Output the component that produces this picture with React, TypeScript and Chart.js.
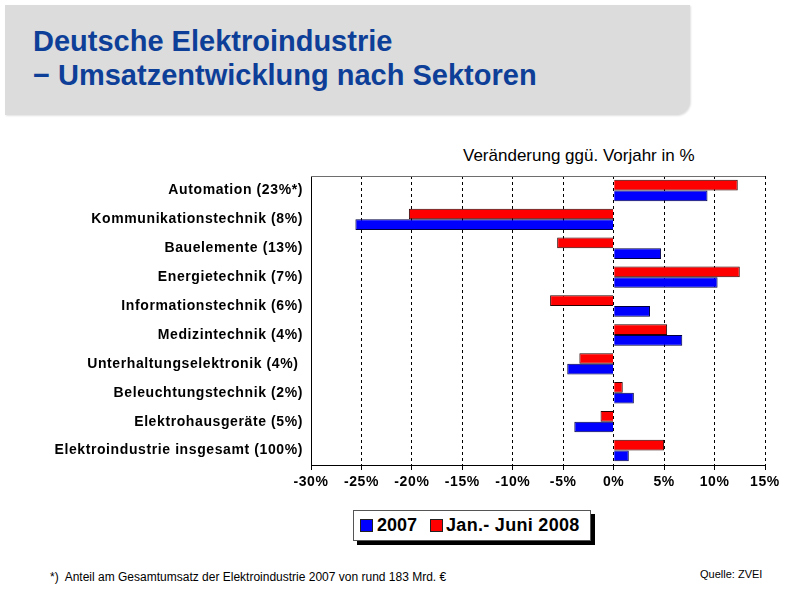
import React, { useEffect, useRef } from "react";
import { Chart, registerables } from "chart.js";

Chart.register(...registerables);

// Sectors (share of total turnover in brackets)
const sectors = [
  "Automation (23%*)",
  "Kommunikationstechnik (8%)",
  "Bauelemente (13%)",
  "Energietechnik (7%)",
  "Informationstechnik (6%)",
  "Medizintechnik (4%)",
  "Unterhaltungselektronik (4%) ",
  "Beleuchtungstechnik (2%)",
  "Elektrohausgeräte (5%)",
  "Elektroindustrie insgesamt (100%)",
];

// Change vs. previous year in %
const change2007 = [9.3, -25.6, 4.7, 10.3, 3.6, 6.8, -4.6, 2.0, -3.9, 1.5];
const changeH1_2008 = [12.3, -20.3, -5.6, 12.5, -6.3, 5.3, -3.4, 0.9, -1.3, 5.0];

const seriesNames = ["2007", "Jan.- Juni 2008"];
const xMin = -30;
const xMax = 15;
const xStep = 5;

const FONT = 'Arial, "Liberation Sans", Helvetica, sans-serif';

// Thin grey line along the top of the plot frame
const topFrame = {
  id: "topFrame",
  afterDatasetsDraw(chart: any) {
    const { ctx, chartArea } = chart;
    ctx.save();
    ctx.strokeStyle = "#6e6e6e";
    ctx.lineWidth = 1;
    ctx.beginPath();
    ctx.moveTo(chartArea.left, Math.round(chartArea.top) + 0.5);
    ctx.lineTo(chartArea.right, Math.round(chartArea.top) + 0.5);
    ctx.stroke();
    ctx.restore();
  },
};

// Slightly spaced-out axis lettering
const spacedText = {
  id: "spacedText",
  beforeDraw(chart: any) {
    chart.ctx.letterSpacing = "0.6px";
  },
  afterDraw(chart: any) {
    chart.ctx.letterSpacing = "0px";
  },
};

function SectorChart() {
  const ref = useRef<HTMLCanvasElement | null>(null);

  useEffect(() => {
    if (!ref.current) return;
    const chart = new Chart(ref.current, {
      type: "bar",
      data: {
        labels: sectors,
        datasets: [
          {
            label: seriesNames[1],
            data: changeH1_2008,
            backgroundColor: "#ff0000",
            borderColor: "#2a0000",
            borderWidth: 1,
            categoryPercentage: 0.74,
            barPercentage: 1,
          },
          {
            label: seriesNames[0],
            data: change2007,
            backgroundColor: "#0000ff",
            borderColor: "#000040",
            borderWidth: 1,
            categoryPercentage: 0.74,
            barPercentage: 1,
          },
        ],
      },
      options: {
        indexAxis: "y",
        responsive: false,
        animation: false,
        layout: { padding: { top: 6, right: 31, left: 0, bottom: 0 } },
        plugins: {
          legend: { display: false },
          tooltip: { enabled: false },
          title: { display: false },
        },
        scales: {
          x: {
            min: xMin,
            max: xMax,
            ticks: {
              stepSize: xStep,
              color: "#000",
              font: { family: FONT, size: 14, weight: "bold" },
              padding: 4,
              callback: (v: any) => `${v}%`,
            },
            grid: {
              color: "#000",
              lineWidth: 1,
              drawTicks: true,
              tickLength: 5,
              tickColor: "#000",
            },
            border: { display: true, color: "#000", width: 1, dash: [3, 3] },
            afterFit: (scale: any) => {
              scale.height = 35;
            },
          },
          y: {
            ticks: {
              color: "#000",
              font: { family: FONT, size: 14, weight: "bold" },
              padding: 8,
            },
            grid: { display: false, drawTicks: false },
            border: { display: true, color: "#000", width: 1 },
            afterFit: (scale: any) => {
              scale.width = 311;
              scale.paddingTop = 0;
              scale.paddingBottom = 0;
            },
          },
        },
      },
      plugins: [topFrame, spacedText],
    });
    return () => chart.destroy();
  }, []);

  return (
    <canvas
      ref={ref}
      width={796}
      height={330}
      style={{ position: "absolute", left: 0, top: 170, width: 796, height: 330 }}
    />
  );
}

export default function App() {
  return (
    <div
      style={{
        position: "absolute",
        left: 0,
        top: 0,
        width: 796,
        height: 600,
        background: "#fff",
        overflow: "hidden",
        fontFamily: FONT,
      }}
    >
      <div
        style={{
          position: "absolute",
          left: 5,
          top: 5,
          width: 685,
          height: 110,
          background: "#dcdcdc",
          borderBottomRightRadius: 14,
          boxShadow: "1px 1px 2px rgba(0,0,0,0.12)",
        }}
      />
      <div
        style={{
          position: "absolute",
          left: 33,
          top: 24,
          fontSize: 29,
          lineHeight: "34px",
          fontWeight: "bold",
          color: "#0e3f98",
          whiteSpace: "pre",
        }}
      >
        {"Deutsche Elektroindustrie\n− Umsatzentwicklung nach Sektoren"}
      </div>
      <div
        style={{
          position: "absolute",
          left: 463,
          top: 147,
          fontSize: 17,
          lineHeight: "17px",
          color: "#000",
          whiteSpace: "pre",
        }}
      >
        Veränderung ggü. Vorjahr in %
      </div>
      <SectorChart />
      {/* legend box with hard drop shadow */}
      <div
        style={{
          position: "absolute",
          left: 353,
          top: 510,
          width: 236,
          height: 29,
          border: "1px solid #555",
          background: "#fff",
          boxShadow: "4px 4px 0 #000",
          display: "flex",
          alignItems: "center",
          fontSize: 18,
          fontWeight: "bold",
          color: "#000",
          whiteSpace: "pre",
        }}
      >
        <span
          style={{
            display: "inline-block",
            width: 11,
            height: 11,
            background: "#0000ff",
            border: "1px solid #222",
            marginLeft: 6,
            marginRight: 4,
          }}
        />
        <span>{seriesNames[0]}</span>
        <span
          style={{
            display: "inline-block",
            width: 11,
            height: 11,
            background: "#ff0000",
            border: "1px solid #222",
            marginLeft: 13,
            marginRight: 3,
          }}
        />
        <span style={{ letterSpacing: "0.3px" }}>{seriesNames[1]}</span>
      </div>
      <div
        style={{
          position: "absolute",
          left: 50,
          top: 571,
          fontSize: 12,
          lineHeight: "12px",
          color: "#000",
          whiteSpace: "pre",
        }}
      >
        {"*)  Anteil am Gesamtumsatz der Elektroindustrie 2007 von rund 183 Mrd. €"}
      </div>
      <div
        style={{
          position: "absolute",
          left: 700,
          top: 568,
          fontSize: 11,
          lineHeight: "12px",
          color: "#000",
          whiteSpace: "pre",
        }}
      >
        Quelle: ZVEI
      </div>
    </div>
  );
}
